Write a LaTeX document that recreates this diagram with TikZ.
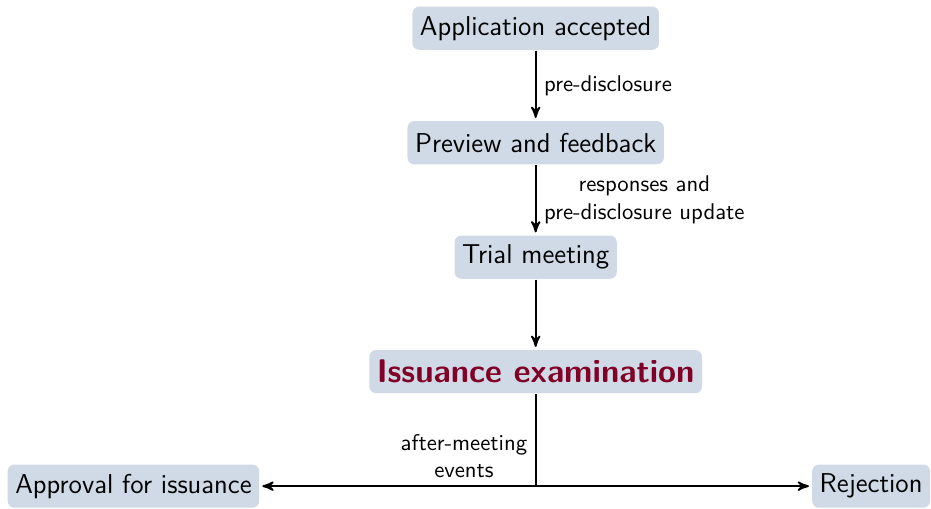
\documentclass[tikz,border=0pt]{standalone}
\usetikzlibrary{arrows,positioning}

\definecolor{boxblue}{RGB}{207,218,230}
\definecolor{examred}{RGB}{128,0,38}

\begin{document}
\begin{tikzpicture}[->,>=stealth',shorten >=1pt,auto,node distance=1.77cm,
  thick,main node/.style={rectangle,rounded corners=3pt,fill=boxblue,
  font=\sffamily\large,minimum height=19pt},
  exam node/.style={main node,font=\sffamily\Large\bfseries,text=examred}]

  \node[main node] (app) {Application accepted};
  \node[main node] (preview) [below of=app] {Preview and feedback};
  \node[main node] (trial) [below of=preview] {Trial meeting};
  \node[exam node] (exam) [below of=trial] {Issuance examination};
  \coordinate[below of=exam] (split);
  \node[main node] (approve) [left=4.26cm of split] {Approval for issuance};
  \node[main node] (reject) [right=4.26cm of split] {Rejection};

  \coordinate (top) at ([yshift=2.5pt]app.north);
  \coordinate (left) at ([xshift=-3pt]approve.west);
  \useasboundingbox (left |- top) rectangle (reject.east |- approve.south);

  \path[every node/.style={font=\sffamily,align=center}]

    %from accepted application to the preview%
    (app) edge node {pre-disclosure} (preview)
    %preview feedback goes to the trial meeting
    (preview) edge node {responses and\\pre-disclosure update} (trial)
    (trial) edge (exam)

    %the examination splits into approval or rejection%
    (exam) edge[-,shorten >=0pt] (split)
    (split) edge (approve)
    (split) edge (reject);

  \node[font=\sffamily,align=center,above left] (events) at (split)
    {after-meeting\\events};

\end{tikzpicture}
\end{document}
